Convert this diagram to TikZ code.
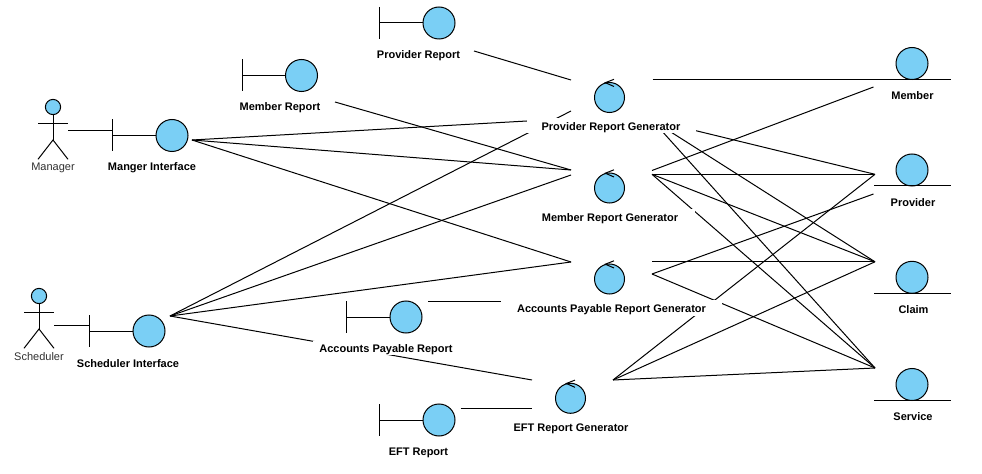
\documentclass[tikz,border=0pt]{standalone}
\usepackage{fontspec}
\setmainfont{Liberation Sans}
\definecolor{ballblue}{HTML}{7ACFF5}
\definecolor{actortext}{HTML}{303030}
\tikzset{
  x=0.75pt,y=-0.75pt,
  every path/.style={line width=0.75pt},
  ball/.style={circle,draw=black,fill=ballblue,inner sep=0pt,outer sep=0pt,minimum size=24pt},
  ctrlball/.style={ball,minimum size=22.5pt},
  headball/.style={ball,minimum size=11.4pt},
  lab/.style={font=\fontsize{8.25}{10}\selectfont\bfseries,inner sep=0pt,text=black},
  actorlab/.style={font=\fontsize{8.25}{10}\selectfont,inner sep=0pt,text=actortext},
  mask/.style={fill=white,inner sep=0pt,outer sep=0pt},
  conn/.style={draw=black,line cap=butt},
  boundarypic/.pic={
    \node[ball] (-c) at (0,0) {};
    \coordinate (-t) at (-59.5,0);
    \draw (-c.west) -- (-t);
    \draw (-59.5,-16) -- (-59.5,16);
  },
  entitypic/.pic={
    \node[ball] (-c) at (0,0) {};
    \draw (-38,16) -- (39,16);
  },
  controlpic/.pic={
    \node[ctrlball] (-c) at (0,0) {};
    \draw (4.5,-18.2) -- (-4.2,-14.8) -- (4.5,-11);
  },
  actorpic/.pic={
    \node[headball] (-h) at (0,0) {};
    \draw (-h.south) -- (0,33);
    \draw (-15,16.3) -- (15,16.3);
    \draw (-15,52.3) -- (0,33) -- (15,52.3);
  }
}
\begin{document}
\begin{tikzpicture}
\useasboundingbox (0,0) rectangle (982,474);
% connector ports
\coordinate (miR) at (192,140);
\coordinate (siR) at (170,316);
\coordinate (mrR) at (335,102);
\coordinate (prR) at (474,51);
\coordinate (apR) at (428,301);
\coordinate (efR) at (460.5,408.3);
\coordinate (prgLa) at (571,80);
\coordinate (prgLb) at (571,118.5);
\coordinate (prgLc) at (571,111);
\coordinate (mrgLa) at (571,170);
\coordinate (mrgLb) at (571,175);
\coordinate (apgL) at (571,262);
\coordinate (apgLb) at (510,301);
\coordinate (efgLa) at (532,380);
\coordinate (efgLb) at (532,408.3);
\coordinate (prgRa) at (652.5,79.5);
\coordinate (prgRb) at (652,120);
\coordinate (mrgRa) at (652,170.5);
\coordinate (mrgRb) at (652,174.3);
\coordinate (apgRa) at (652,261.8);
\coordinate (apgRb) at (652,274);
\coordinate (efgR) at (613,380);
\coordinate (memLa) at (873.5,79.5);
\coordinate (memLb) at (873.5,87);
\coordinate (proLa) at (875,174.3);
\coordinate (proLb) at (873.5,194);
\coordinate (claL) at (875,261.8);
\coordinate (serL) at (875,368);
\coordinate (manR) at (68.3,130.3);
\coordinate (manT) at (111.7,130.3);
\coordinate (schR) at (54.3,325.3);
\coordinate (schT) at (89,325.3);
% connectors
\draw[conn] (manR) -- (manT);
\draw[conn] (schR) -- (schT);
\draw[conn] (miR) -- (prgLb);
\draw[conn] (miR) -- (mrgLa);
\draw[conn] (miR) -- (apgL);
\draw[conn] (siR) -- (prgLc);
\draw[conn] (siR) -- (mrgLb);
\draw[conn] (siR) -- (apgL);
\draw[conn] (siR) -- (efgLa);
\draw[conn] (prR) -- (prgLa);
\draw[conn] (mrR) -- (mrgLa);
\draw[conn] (apR) -- (apgLb);
\draw[conn] (efR) -- (efgLb);
\draw[conn] (prgRa) -- (memLa);
\draw[conn] (prgRb) -- (proLa);
\draw[conn] (prgRb) -- (claL);
\draw[conn] (prgRb) -- (serL);
\draw[conn] (mrgRa) -- (memLb);
\draw[conn] (mrgRb) -- (proLa);
\draw[conn] (mrgRb) -- (claL);
\draw[conn] (mrgRb) -- (serL);
\draw[conn] (apgRa) -- (claL);
\draw[conn] (apgRb) -- (proLb);
\draw[conn] (apgRb) -- (serL);
\draw[conn] (efgR) -- (proLa);
\draw[conn] (efgR) -- (claL);
\draw[conn] (efgR) -- (serL);
% label backgrounds that break the connectors
\fill[mask] (527,118) rectangle (696,133);
\fill[mask] (527,209.5) rectangle (695,224);
\fill[mask] (501,300) rectangle (722,316);
\fill[mask] (313,341.3) rectangle (459,354.8);
% elements
\pic (manager) at (53,107) {actorpic};
\pic (scheduler) at (39,296) {actorpic};
\pic (mi) at (172,135.5) {boundarypic};
\pic (mr) at (301.5,75.5) {boundarypic};
\pic (pr) at (439,23) {boundarypic};
\pic (si) at (149,331) {boundarypic};
\pic (ap) at (406,317) {boundarypic};
\pic (ef) at (439,420) {boundarypic};
\pic (prg) at (609.5,97.5) {controlpic};
\pic (mrg) at (609.5,188) {controlpic};
\pic (apg) at (609.5,279) {controlpic};
\pic (efg) at (570.5,398.3) {controlpic};
\pic (mem) at (912,63.5) {entitypic};
\pic (pro) at (912,170) {entitypic};
\pic (cla) at (912,277.3) {entitypic};
\pic (ser) at (912,384.5) {entitypic};
% labels
\node[actorlab] (tman) at (53,168) {Manager};
\node[actorlab] (tsch) at (39,356.5) {Scheduler};
\node[lab] (tmi) at (152,168) {Manger Interface};
\node[lab] (tmr) at (280,108) {Member Report};
\node[lab] (tpr) at (418.5,56) {Provider Report};
\node[lab] (tsi) at (128,363.5) {Scheduler Interface};
\node[lab] (tap) at (386,349.5) {Accounts Payable Report};
\node[lab] (tef) at (418.5,453) {EFT Report};
\node[lab] (tprg) at (611,128) {Provider Report Generator};
\node[lab] (tmrg) at (610,218.5) {Member Report Generator};
\node[lab] (tapg) at (611.5,309.5) {Accounts Payable Report Generator};
\node[lab] (tefg) at (571,428.5) {EFT Report Generator};
\node[lab] (tmem) at (912.5,95.5) {Member};
\node[lab] (tpro) at (913,202.5) {Provider};
\node[lab] (tcla) at (913.5,309.5) {Claim};
\node[lab] (tser) at (913,416.5) {Service};
\end{tikzpicture}
\end{document}
